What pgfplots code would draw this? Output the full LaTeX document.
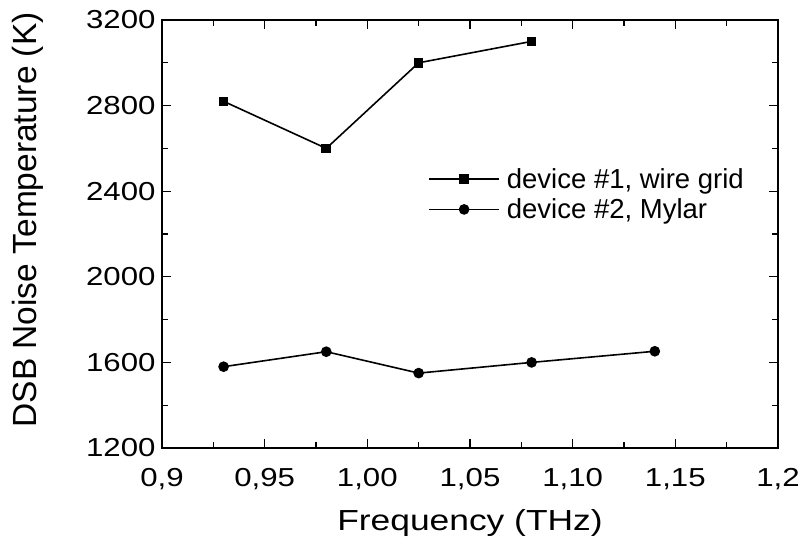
\documentclass[border=0pt]{standalone}
\usepackage{fontspec}
\setmainfont{Liberation Sans}
\newfontfamily\tickfont[FakeStretch=1.2]{Liberation Sans}
\newfontfamily\xlabfont[FakeStretch=1.22]{Liberation Sans}
\usepackage{pgfplots}
\pgfplotsset{compat=1.18}
\begin{document}
\begin{tikzpicture}
\path[use as bounding box] (-162pt,-102pt) rectangle (644pt,448pt);
\begin{axis}[
  at={(0pt,0pt)}, anchor=south west,
  scale only axis, width=616pt, height=428pt,
  xmin=0.9, xmax=1.2, ymin=1200, ymax=3200,
  xtick={0.9,0.95,1.0,1.05,1.1,1.15,1.2},
  xticklabels={{0,9},{0,95},{1,00},{1,05},{1,10},{1,15},{1,2}},
  minor x tick num=1,
  ytick={1200,1600,2000,2400,2800,3200},
  yticklabels={1200,1600,2000,2400,2800,3200},
  minor y tick num=1,
  tick align=inside,
  major tick length=9pt, minor tick length=6pt,
  every tick/.style={black, line width=1.3pt},
  axis line style={line width=1.8pt},
  tick label style={font=\tickfont\fontsize{26}{30}\selectfont},
  xticklabel style={anchor=base, yshift=-38pt},
  yticklabel style={xshift=-3pt},
  xlabel={Frequency (THz)}, ylabel={DSB Noise Temperature (K)},
  xlabel style={font=\xlabfont\fontsize{29}{34}\selectfont, at={(axis description cs:0.5,-0.175)}, anchor=center},
  ylabel style={font=\fontsize{33.5}{38}\selectfont, at={(axis description cs:-0.2175,0.533)}, anchor=center},
  legend style={draw=none, fill=none, at={(0.432,0.593)}, anchor=west,
    font=\fontsize{27.5}{31}\selectfont, inner sep=0pt, row sep=5pt,
    /tikz/every odd column/.style={column sep=5pt}},
  legend cell align=left,
  legend image code/.code={\draw[mark repeat=2,mark phase=2,#1] plot coordinates {(0pt,0pt)(35pt,0pt)(70pt,0pt)};},
]
\addplot[black, line width=1.6pt, mark=square*, mark size=4pt] coordinates {
  (0.93,2820) (0.98,2600) (1.025,3000) (1.08,3100)};
\addlegendentry{device \#1, wire grid}
\addplot[black, line width=1.6pt, mark=*, mark size=4.5pt] coordinates {
  (0.93,1580) (0.98,1650) (1.025,1550) (1.08,1600) (1.14,1652)};
\addlegendentry{device \#2, Mylar}
\end{axis}
\end{tikzpicture}
\end{document}
